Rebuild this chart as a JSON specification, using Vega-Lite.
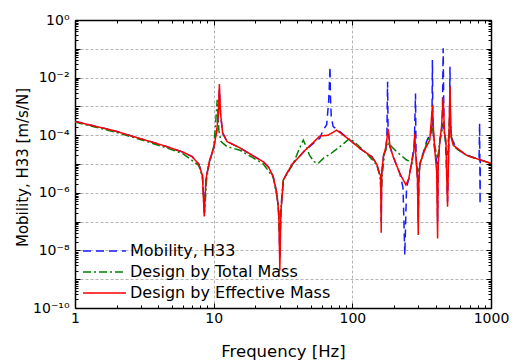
{
  "$schema": "https://vega.github.io/schema/vega-lite/v6.json",
  "width": 416,
  "height": 288,
  "autosize": {"type": "none"},
  "padding": {"left": 75, "top": 20, "right": 28, "bottom": 53},
  "config": {"view": {"stroke": null}, "font": "DejaVu Sans"},
  "datasets": {
    "curves": [
      {"f": 1, "v": 3.0e-4, "s": "Mobility, H33"},
      {"f": 1.5, "v": 1.9e-4, "s": "Mobility, H33"},
      {"f": 2, "v": 1.35e-4, "s": "Mobility, H33"},
      {"f": 2.63, "v": 9e-5, "s": "Mobility, H33"},
      {"f": 3.5, "v": 6e-5, "s": "Mobility, H33"},
      {"f": 4.6, "v": 4e-5, "s": "Mobility, H33"},
      {"f": 6, "v": 2.6e-5, "s": "Mobility, H33"},
      {"f": 7, "v": 1.8e-5, "s": "Mobility, H33"},
      {"f": 7.8, "v": 1e-5, "s": "Mobility, H33"},
      {"f": 8.3, "v": 4e-6, "s": "Mobility, H33"},
      {"f": 8.55, "v": 2e-7, "s": "Mobility, H33"},
      {"f": 8.8, "v": 3e-6, "s": "Mobility, H33"},
      {"f": 9.3, "v": 1.2e-5, "s": "Mobility, H33"},
      {"f": 10, "v": 3.5e-5, "s": "Mobility, H33"},
      {"f": 10.5, "v": 1.3e-4, "s": "Mobility, H33"},
      {"f": 10.8, "v": 5e-4, "s": "Mobility, H33"},
      {"f": 11, "v": 4e-3, "s": "Mobility, H33"},
      {"f": 11.2, "v": 6e-4, "s": "Mobility, H33"},
      {"f": 11.6, "v": 1.2e-4, "s": "Mobility, H33"},
      {"f": 12.5, "v": 6e-5, "s": "Mobility, H33"},
      {"f": 15.5, "v": 3.6e-5, "s": "Mobility, H33"},
      {"f": 19, "v": 2e-5, "s": "Mobility, H33"},
      {"f": 22.8, "v": 1.2e-5, "s": "Mobility, H33"},
      {"f": 25, "v": 7.5e-6, "s": "Mobility, H33"},
      {"f": 26.9, "v": 3.6e-6, "s": "Mobility, H33"},
      {"f": 28.5, "v": 1e-6, "s": "Mobility, H33"},
      {"f": 29.5, "v": 2e-7, "s": "Mobility, H33"},
      {"f": 30, "v": 5e-9, "s": "Mobility, H33"},
      {"f": 30.5, "v": 2e-7, "s": "Mobility, H33"},
      {"f": 31.8, "v": 2.8e-6, "s": "Mobility, H33"},
      {"f": 36.5, "v": 9.3e-6, "s": "Mobility, H33"},
      {"f": 45, "v": 2.8e-5, "s": "Mobility, H33"},
      {"f": 58.4, "v": 8e-5, "s": "Mobility, H33"},
      {"f": 61.6, "v": 1.5e-4, "s": "Mobility, H33"},
      {"f": 65.3, "v": 2.3e-4, "s": "Mobility, H33"},
      {"f": 67.5, "v": 1.5e-3, "s": "Mobility, H33"},
      {"f": 68.5, "v": 8e-3, "s": "Mobility, H33"},
      {"f": 69, "v": 2.4e-2, "s": "Mobility, H33"},
      {"f": 69.5, "v": 2.2e-3, "s": "Mobility, H33"},
      {"f": 70.5, "v": 4.4e-4, "s": "Mobility, H33"},
      {"f": 72.7, "v": 2e-4, "s": "Mobility, H33"},
      {"f": 79, "v": 1.5e-4, "s": "Mobility, H33"},
      {"f": 95.9, "v": 6.8e-5, "s": "Mobility, H33"},
      {"f": 113, "v": 3.5e-5, "s": "Mobility, H33"},
      {"f": 138, "v": 1.8e-5, "s": "Mobility, H33"},
      {"f": 150, "v": 1e-5, "s": "Mobility, H33"},
      {"f": 156, "v": 5e-6, "s": "Mobility, H33"},
      {"f": 160, "v": 4e-6, "s": "Mobility, H33"},
      {"f": 161.5, "v": 1e-7, "s": "Mobility, H33"},
      {"f": 163, "v": 5e-6, "s": "Mobility, H33"},
      {"f": 168, "v": 2e-5, "s": "Mobility, H33"},
      {"f": 175, "v": 4e-5, "s": "Mobility, H33"},
      {"f": 177.5, "v": 1e-4, "s": "Mobility, H33"},
      {"f": 179.5, "v": 7.2e-3, "s": "Mobility, H33"},
      {"f": 181, "v": 1.6e-4, "s": "Mobility, H33"},
      {"f": 187, "v": 4e-5, "s": "Mobility, H33"},
      {"f": 197, "v": 1.8e-5, "s": "Mobility, H33"},
      {"f": 220, "v": 4.7e-6, "s": "Mobility, H33"},
      {"f": 232, "v": 1.5e-6, "s": "Mobility, H33"},
      {"f": 239, "v": 6.9e-9, "s": "Mobility, H33"},
      {"f": 246, "v": 1.5e-6, "s": "Mobility, H33"},
      {"f": 255, "v": 3e-6, "s": "Mobility, H33"},
      {"f": 267, "v": 1.05e-5, "s": "Mobility, H33"},
      {"f": 280, "v": 5e-5, "s": "Mobility, H33"},
      {"f": 285.5, "v": 2.8e-3, "s": "Mobility, H33"},
      {"f": 288, "v": 2e-5, "s": "Mobility, H33"},
      {"f": 295, "v": 3e-6, "s": "Mobility, H33"},
      {"f": 298.7, "v": 1e-7, "s": "Mobility, H33"},
      {"f": 302, "v": 3e-6, "s": "Mobility, H33"},
      {"f": 307, "v": 1e-5, "s": "Mobility, H33"},
      {"f": 343, "v": 6e-5, "s": "Mobility, H33"},
      {"f": 365, "v": 1.2e-4, "s": "Mobility, H33"},
      {"f": 375, "v": 2e-4, "s": "Mobility, H33"},
      {"f": 378, "v": 4.1e-2, "s": "Mobility, H33"},
      {"f": 381, "v": 2e-4, "s": "Mobility, H33"},
      {"f": 390, "v": 4e-5, "s": "Mobility, H33"},
      {"f": 408, "v": 1e-5, "s": "Mobility, H33"},
      {"f": 412, "v": 1e-7, "s": "Mobility, H33"},
      {"f": 416, "v": 1e-5, "s": "Mobility, H33"},
      {"f": 428, "v": 6.8e-5, "s": "Mobility, H33"},
      {"f": 445, "v": 2e-4, "s": "Mobility, H33"},
      {"f": 452, "v": 1.04e-1, "s": "Mobility, H33"},
      {"f": 458, "v": 2e-4, "s": "Mobility, H33"},
      {"f": 470, "v": 6e-5, "s": "Mobility, H33"},
      {"f": 480, "v": 3e-6, "s": "Mobility, H33"},
      {"f": 486, "v": 5e-7, "s": "Mobility, H33"},
      {"f": 495, "v": 3e-5, "s": "Mobility, H33"},
      {"f": 502, "v": 3e-4, "s": "Mobility, H33"},
      {"f": 506, "v": 2.4e-2, "s": "Mobility, H33"},
      {"f": 510, "v": 2e-4, "s": "Mobility, H33"},
      {"f": 520, "v": 8e-5, "s": "Mobility, H33"},
      {"f": 560, "v": 3.5e-5, "s": "Mobility, H33"},
      {"f": 667, "v": 2e-5, "s": "Mobility, H33"},
      {"f": 820, "v": 1.45e-5, "s": "Mobility, H33"},
      {"f": 828, "v": 2.6e-4, "s": "Mobility, H33"},
      {"f": 834, "v": 4.1e-7, "s": "Mobility, H33"},
      {"f": 838, "v": 1.4e-5, "s": "Mobility, H33"},
      {"f": 1000, "v": 1.05e-5, "s": "Mobility, H33"},

      {"f": 1, "v": 2.85e-4, "s": "Design by Total Mass"},
      {"f": 2, "v": 1.25e-4, "s": "Design by Total Mass"},
      {"f": 3.5, "v": 5.5e-5, "s": "Design by Total Mass"},
      {"f": 4.6, "v": 3.6e-5, "s": "Design by Total Mass"},
      {"f": 6, "v": 2.3e-5, "s": "Design by Total Mass"},
      {"f": 7.8, "v": 9e-6, "s": "Design by Total Mass"},
      {"f": 8.3, "v": 3.5e-6, "s": "Design by Total Mass"},
      {"f": 8.6, "v": 2e-7, "s": "Design by Total Mass"},
      {"f": 8.9, "v": 3e-6, "s": "Design by Total Mass"},
      {"f": 9.3, "v": 1.1e-5, "s": "Design by Total Mass"},
      {"f": 10, "v": 4e-5, "s": "Design by Total Mass"},
      {"f": 10.3, "v": 2e-4, "s": "Design by Total Mass"},
      {"f": 10.6, "v": 1.7e-3, "s": "Design by Total Mass"},
      {"f": 10.9, "v": 1.5e-4, "s": "Design by Total Mass"},
      {"f": 11.3, "v": 6e-5, "s": "Design by Total Mass"},
      {"f": 12.5, "v": 4e-5, "s": "Design by Total Mass"},
      {"f": 15.5, "v": 3e-5, "s": "Design by Total Mass"},
      {"f": 19, "v": 1.7e-5, "s": "Design by Total Mass"},
      {"f": 22.8, "v": 1e-5, "s": "Design by Total Mass"},
      {"f": 26.9, "v": 3.4e-6, "s": "Design by Total Mass"},
      {"f": 29, "v": 5e-7, "s": "Design by Total Mass"},
      {"f": 29.9, "v": 3e-8, "s": "Design by Total Mass"},
      {"f": 30.8, "v": 5e-7, "s": "Design by Total Mass"},
      {"f": 31.8, "v": 2.8e-6, "s": "Design by Total Mass"},
      {"f": 37.6, "v": 1.05e-5, "s": "Design by Total Mass"},
      {"f": 41, "v": 3e-5, "s": "Design by Total Mass"},
      {"f": 44.3, "v": 6.8e-5, "s": "Design by Total Mass"},
      {"f": 46, "v": 4.5e-5, "s": "Design by Total Mass"},
      {"f": 49.2, "v": 2e-5, "s": "Design by Total Mass"},
      {"f": 53, "v": 1.2e-5, "s": "Design by Total Mass"},
      {"f": 56.6, "v": 1.05e-5, "s": "Design by Total Mass"},
      {"f": 62, "v": 1.6e-5, "s": "Design by Total Mass"},
      {"f": 70, "v": 2.3e-5, "s": "Design by Total Mass"},
      {"f": 81.3, "v": 4e-5, "s": "Design by Total Mass"},
      {"f": 90, "v": 6e-5, "s": "Design by Total Mass"},
      {"f": 96, "v": 7.8e-5, "s": "Design by Total Mass"},
      {"f": 110, "v": 4.5e-5, "s": "Design by Total Mass"},
      {"f": 127, "v": 2.3e-5, "s": "Design by Total Mass"},
      {"f": 150, "v": 9.3e-6, "s": "Design by Total Mass"},
      {"f": 158, "v": 4e-6, "s": "Design by Total Mass"},
      {"f": 161, "v": 1e-6, "s": "Design by Total Mass"},
      {"f": 165, "v": 5e-6, "s": "Design by Total Mass"},
      {"f": 171, "v": 2.4e-5, "s": "Design by Total Mass"},
      {"f": 182, "v": 5.2e-5, "s": "Design by Total Mass"},
      {"f": 208, "v": 2.7e-5, "s": "Design by Total Mass"},
      {"f": 245, "v": 1.4e-5, "s": "Design by Total Mass"},
      {"f": 290, "v": 9.3e-6, "s": "Design by Total Mass"},
      {"f": 300, "v": 5e-6, "s": "Design by Total Mass"},
      {"f": 307, "v": 1e-5, "s": "Design by Total Mass"},
      {"f": 343, "v": 5e-5, "s": "Design by Total Mass"},
      {"f": 370, "v": 1.2e-4, "s": "Design by Total Mass"},
      {"f": 378, "v": 2.5e-4, "s": "Design by Total Mass"},
      {"f": 390, "v": 5e-5, "s": "Design by Total Mass"},
      {"f": 412, "v": 1.5e-5, "s": "Design by Total Mass"},
      {"f": 428, "v": 6e-5, "s": "Design by Total Mass"},
      {"f": 452, "v": 2.5e-4, "s": "Design by Total Mass"},
      {"f": 470, "v": 6e-5, "s": "Design by Total Mass"},
      {"f": 486, "v": 2e-5, "s": "Design by Total Mass"},
      {"f": 506, "v": 6e-4, "s": "Design by Total Mass"},
      {"f": 520, "v": 8e-5, "s": "Design by Total Mass"},
      {"f": 560, "v": 3.5e-5, "s": "Design by Total Mass"},
      {"f": 667, "v": 2e-5, "s": "Design by Total Mass"},
      {"f": 831, "v": 1.4e-5, "s": "Design by Total Mass"},
      {"f": 1000, "v": 1.05e-5, "s": "Design by Total Mass"},

      {"f": 1, "v": 3.0e-4, "s": "Design by Effective Mass"},
      {"f": 1.5, "v": 1.9e-4, "s": "Design by Effective Mass"},
      {"f": 2, "v": 1.35e-4, "s": "Design by Effective Mass"},
      {"f": 2.63, "v": 9e-5, "s": "Design by Effective Mass"},
      {"f": 3.5, "v": 6e-5, "s": "Design by Effective Mass"},
      {"f": 4.6, "v": 4e-5, "s": "Design by Effective Mass"},
      {"f": 6, "v": 2.6e-5, "s": "Design by Effective Mass"},
      {"f": 7, "v": 1.8e-5, "s": "Design by Effective Mass"},
      {"f": 7.8, "v": 1e-5, "s": "Design by Effective Mass"},
      {"f": 8.3, "v": 4e-6, "s": "Design by Effective Mass"},
      {"f": 8.55, "v": 1.5e-7, "s": "Design by Effective Mass"},
      {"f": 8.8, "v": 3e-6, "s": "Design by Effective Mass"},
      {"f": 9.3, "v": 1.2e-5, "s": "Design by Effective Mass"},
      {"f": 10, "v": 3.5e-5, "s": "Design by Effective Mass"},
      {"f": 10.5, "v": 1.3e-4, "s": "Design by Effective Mass"},
      {"f": 10.8, "v": 5e-4, "s": "Design by Effective Mass"},
      {"f": 11, "v": 6e-3, "s": "Design by Effective Mass"},
      {"f": 11.2, "v": 6e-4, "s": "Design by Effective Mass"},
      {"f": 11.6, "v": 1.2e-4, "s": "Design by Effective Mass"},
      {"f": 12.5, "v": 6e-5, "s": "Design by Effective Mass"},
      {"f": 15.5, "v": 3.6e-5, "s": "Design by Effective Mass"},
      {"f": 19, "v": 2e-5, "s": "Design by Effective Mass"},
      {"f": 22.8, "v": 1.2e-5, "s": "Design by Effective Mass"},
      {"f": 25, "v": 7.5e-6, "s": "Design by Effective Mass"},
      {"f": 26.9, "v": 3.6e-6, "s": "Design by Effective Mass"},
      {"f": 28.5, "v": 1e-6, "s": "Design by Effective Mass"},
      {"f": 29.5, "v": 2e-7, "s": "Design by Effective Mass"},
      {"f": 30, "v": 2e-9, "s": "Design by Effective Mass"},
      {"f": 30.5, "v": 2e-7, "s": "Design by Effective Mass"},
      {"f": 31.8, "v": 2.8e-6, "s": "Design by Effective Mass"},
      {"f": 36.5, "v": 9.3e-6, "s": "Design by Effective Mass"},
      {"f": 45, "v": 2.8e-5, "s": "Design by Effective Mass"},
      {"f": 58.4, "v": 9.4e-5, "s": "Design by Effective Mass"},
      {"f": 67, "v": 1e-4, "s": "Design by Effective Mass"},
      {"f": 77, "v": 1.5e-4, "s": "Design by Effective Mass"},
      {"f": 95.9, "v": 6.8e-5, "s": "Design by Effective Mass"},
      {"f": 113, "v": 3.5e-5, "s": "Design by Effective Mass"},
      {"f": 138, "v": 1.8e-5, "s": "Design by Effective Mass"},
      {"f": 150, "v": 1e-5, "s": "Design by Effective Mass"},
      {"f": 156, "v": 5e-6, "s": "Design by Effective Mass"},
      {"f": 160, "v": 4e-6, "s": "Design by Effective Mass"},
      {"f": 161.5, "v": 4.1e-8, "s": "Design by Effective Mass"},
      {"f": 163, "v": 5e-6, "s": "Design by Effective Mass"},
      {"f": 168, "v": 2e-5, "s": "Design by Effective Mass"},
      {"f": 175, "v": 4e-5, "s": "Design by Effective Mass"},
      {"f": 181, "v": 1.65e-4, "s": "Design by Effective Mass"},
      {"f": 187, "v": 4e-5, "s": "Design by Effective Mass"},
      {"f": 197, "v": 1.8e-5, "s": "Design by Effective Mass"},
      {"f": 220, "v": 4.7e-6, "s": "Design by Effective Mass"},
      {"f": 243, "v": 1.9e-6, "s": "Design by Effective Mass"},
      {"f": 255, "v": 3e-6, "s": "Design by Effective Mass"},
      {"f": 267, "v": 1.05e-5, "s": "Design by Effective Mass"},
      {"f": 277, "v": 2.5e-5, "s": "Design by Effective Mass"},
      {"f": 282, "v": 1.15e-4, "s": "Design by Effective Mass"},
      {"f": 287, "v": 2e-5, "s": "Design by Effective Mass"},
      {"f": 295, "v": 3e-6, "s": "Design by Effective Mass"},
      {"f": 298.7, "v": 3.4e-8, "s": "Design by Effective Mass"},
      {"f": 302, "v": 3e-6, "s": "Design by Effective Mass"},
      {"f": 307, "v": 1e-5, "s": "Design by Effective Mass"},
      {"f": 333, "v": 3.1e-5, "s": "Design by Effective Mass"},
      {"f": 362, "v": 6.8e-5, "s": "Design by Effective Mass"},
      {"f": 378, "v": 1.1e-3, "s": "Design by Effective Mass"},
      {"f": 385, "v": 1.5e-4, "s": "Design by Effective Mass"},
      {"f": 395, "v": 2.4e-5, "s": "Design by Effective Mass"},
      {"f": 406, "v": 5e-6, "s": "Design by Effective Mass"},
      {"f": 412, "v": 2.6e-8, "s": "Design by Effective Mass"},
      {"f": 416, "v": 1e-5, "s": "Design by Effective Mass"},
      {"f": 428, "v": 6.8e-5, "s": "Design by Effective Mass"},
      {"f": 440, "v": 2e-4, "s": "Design by Effective Mass"},
      {"f": 452, "v": 2e-3, "s": "Design by Effective Mass"},
      {"f": 462, "v": 1.2e-4, "s": "Design by Effective Mass"},
      {"f": 473, "v": 6.8e-5, "s": "Design by Effective Mass"},
      {"f": 480, "v": 3e-6, "s": "Design by Effective Mass"},
      {"f": 486, "v": 3.3e-7, "s": "Design by Effective Mass"},
      {"f": 495, "v": 3e-5, "s": "Design by Effective Mass"},
      {"f": 506, "v": 4.9e-3, "s": "Design by Effective Mass"},
      {"f": 515, "v": 8.9e-5, "s": "Design by Effective Mass"},
      {"f": 534, "v": 4.5e-5, "s": "Design by Effective Mass"},
      {"f": 667, "v": 2e-5, "s": "Design by Effective Mass"},
      {"f": 831, "v": 1.4e-5, "s": "Design by Effective Mass"},
      {"f": 1000, "v": 1.05e-5, "s": "Design by Effective Mass"}
    ]
  },
  "data": {"name": "curves"},
  "layer": [
    {
      "mark": {"type": "line", "clip": true},
      "encoding": {
        "x": {
          "field": "f", "type": "quantitative",
          "scale": {"type": "log", "domain": [1, 1000], "nice": false},
          "axis": {
            "orient": "bottom",
            "values": [1,2,3,4,5,6,7,8,9,10,20,30,40,50,60,70,80,90,100,200,300,400,500,600,700,800,900,1000],
            "labelExpr": "abs(log(datum.value)/LN10 - round(log(datum.value)/LN10)) < 0.001 ? format(datum.value, 'd') : ''",
            "labelFlush": false, "labelOverlap": false, "labelBound": false,
            "labelFont": "DejaVu Sans", "labelFontSize": 14, "labelColor": "black", "labelPadding": 8,
            "tickSize": {"condition": {"test": "abs(log(datum.value)/LN10 - round(log(datum.value)/LN10)) < 0.001", "value": -5}, "value": -3},
            "tickColor": "black", "tickWidth": 1,
            "domainColor": "black", "domainWidth": 1.5,
            "grid": true,
            "gridOpacity": {"condition": {"test": "abs(log(datum.value)/LN10 - round(log(datum.value)/LN10)) < 0.001", "value": 1}, "value": 0},
            "gridColor": "#b4b4b4", "gridDash": [3, 2], "gridWidth": 1,
            "title": "Frequency [Hz]", "titleFont": "DejaVu Sans", "titleFontSize": 16.5, "titleFontWeight": "normal",
            "titleColor": "black", "titleY": 48, "titleBaseline": "alphabetic"
          }
        },
        "y": {
          "field": "v", "type": "quantitative",
          "scale": {"type": "log", "domain": [1e-10, 1], "nice": false},
          "axis": {
            "orient": "left",
            "values": [1e-10,2e-10,3e-10,4e-10,5e-10,6e-10,7e-10,8e-10,9e-10,1e-9,2e-9,3e-9,4e-9,5e-9,6e-9,7e-9,8e-9,9e-9,1e-8,2e-8,3e-8,4e-8,5e-8,6e-8,7e-8,8e-8,9e-8,1e-7,2e-7,3e-7,4e-7,5e-7,6e-7,7e-7,8e-7,9e-7,1e-6,2e-6,3e-6,4e-6,5e-6,6e-6,7e-6,8e-6,9e-6,1e-5,2e-5,3e-5,4e-5,5e-5,6e-5,7e-5,8e-5,9e-5,1e-4,2e-4,3e-4,4e-4,5e-4,6e-4,7e-4,8e-4,9e-4,1e-3,2e-3,3e-3,4e-3,5e-3,6e-3,7e-3,8e-3,9e-3,1e-2,2e-2,3e-2,4e-2,5e-2,6e-2,7e-2,8e-2,9e-2,0.1,0.2,0.3,0.4,0.5,0.6,0.7,0.8,0.9,1],
            "labelExpr": "abs(log(datum.value)/LN10 - round(log(datum.value)/LN10)) < 0.001 ? (round(log(datum.value)/LN10) == 0 ? '10⁰' : round(log(datum.value)/LN10) == -2 ? '10⁻²' : round(log(datum.value)/LN10) == -4 ? '10⁻⁴' : round(log(datum.value)/LN10) == -6 ? '10⁻⁶' : round(log(datum.value)/LN10) == -8 ? '10⁻⁸' : round(log(datum.value)/LN10) == -10 ? '10⁻¹⁰' : '') : ''",
            "labelFlush": false, "labelOverlap": false, "labelBound": false,
            "labelFont": "DejaVu Sans", "labelFontSize": 14, "labelColor": "black", "labelPadding": 11,
            "tickSize": {"condition": {"test": "abs(log(datum.value)/LN10 - round(log(datum.value)/LN10)) < 0.001", "value": -5}, "value": -3},
            "tickColor": "black", "tickWidth": 1,
            "domainColor": "black", "domainWidth": 1.5,
            "grid": true,
            "gridOpacity": {"condition": {"test": "abs(log(datum.value)/LN10 - round(log(datum.value)/LN10)) < 0.001", "value": 1}, "value": 0},
            "gridColor": "#b4b4b4", "gridDash": [3, 2], "gridWidth": 1,
            "title": "Mobility, H33 [m/s/N]", "titleFont": "DejaVu Sans", "titleFontSize": 15, "titleFontWeight": "normal",
            "titleColor": "black", "titleX": -48, "titleY": 147, "titleBaseline": "alphabetic", "titleAngle": -90, "titleAlign": "center"
          }
        },
        "color": {
          "field": "s", "type": "nominal",
          "scale": {"domain": ["Mobility, H33", "Design by Total Mass", "Design by Effective Mass"], "range": ["#1a1aff", "#008000", "#ff0000"]},
          "legend": {
            "orient": "none", "legendX": 18.5, "legendY": 220, "title": null, "padding": 0,
            "labelFont": "DejaVu Sans", "labelFontSize": 16, "labelColor": "black", "labelOffset": 14.5, "labelLimit": 400,
            "symbolType": "M-2.15,0H2.15", "symbolSize": 400, "symbolStrokeWidth": 1.5, "rowPadding": 2
          }
        },
        "strokeDash": {
          "field": "s", "type": "nominal",
          "scale": {"domain": ["Mobility, H33", "Design by Total Mass", "Design by Effective Mass"], "range": [[8, 5], [8, 3, 2, 3], [1, 0]]}
        },
        "strokeWidth": {
          "field": "s", "type": "nominal",
          "scale": {"domain": ["Mobility, H33", "Design by Total Mass", "Design by Effective Mass"], "range": [1.5, 1.5, 2]},
          "legend": null
        }
      }
    },
    {
      "mark": {"type": "line", "opacity": 0},
      "encoding": {
        "x": {
          "field": "f", "type": "quantitative",
          "axis": {
            "orient": "top", "labels": false, "title": null, "grid": false,
            "values": [1,2,3,4,5,6,7,8,9,10,20,30,40,50,60,70,80,90,100,200,300,400,500,600,700,800,900,1000],
            "tickSize": {"condition": {"test": "abs(log(datum.value)/LN10 - round(log(datum.value)/LN10)) < 0.001", "value": -5}, "value": -3},
            "tickColor": "black", "tickWidth": 1, "domainColor": "black", "domainWidth": 1.5
          }
        },
        "y": {
          "field": "v", "type": "quantitative",
          "axis": {
            "orient": "right", "labels": false, "title": null, "grid": false,
            "values": [1e-10,2e-10,3e-10,4e-10,5e-10,6e-10,7e-10,8e-10,9e-10,1e-9,2e-9,3e-9,4e-9,5e-9,6e-9,7e-9,8e-9,9e-9,1e-8,2e-8,3e-8,4e-8,5e-8,6e-8,7e-8,8e-8,9e-8,1e-7,2e-7,3e-7,4e-7,5e-7,6e-7,7e-7,8e-7,9e-7,1e-6,2e-6,3e-6,4e-6,5e-6,6e-6,7e-6,8e-6,9e-6,1e-5,2e-5,3e-5,4e-5,5e-5,6e-5,7e-5,8e-5,9e-5,1e-4,2e-4,3e-4,4e-4,5e-4,6e-4,7e-4,8e-4,9e-4,1e-3,2e-3,3e-3,4e-3,5e-3,6e-3,7e-3,8e-3,9e-3,1e-2,2e-2,3e-2,4e-2,5e-2,6e-2,7e-2,8e-2,9e-2,0.1,0.2,0.3,0.4,0.5,0.6,0.7,0.8,0.9,1],
            "tickSize": {"condition": {"test": "abs(log(datum.value)/LN10 - round(log(datum.value)/LN10)) < 0.001", "value": -5}, "value": -3},
            "tickColor": "black", "tickWidth": 1, "domainColor": "black", "domainWidth": 1.5
          }
        },
        "detail": {"field": "s", "type": "nominal"}
      }
    }
  ],
  "resolve": {"axis": {"x": "independent", "y": "independent"}}
}
